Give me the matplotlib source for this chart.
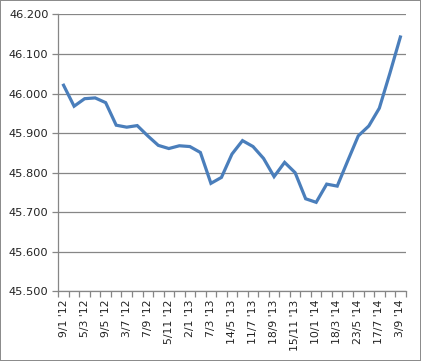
import matplotlib.pyplot as plt

# tick labels shown on every second category
labels = ["9/1 '12", "5/3 '12", "9/5 '12", "3/7 '12", "7/9 '12", "5/11 '12",
          "2/1 '13", "7/3 '13", "14/5 '13", "11/7 '13", "18/9 '13", "15/11 '13",
          "10/1 '14", "18/3 '14", "23/5 '14", "17/7 '14", "3/9 '14"]

values = [46.021, 45.968, 45.987, 45.989, 45.977, 45.920, 45.915, 45.919,
          45.893, 45.869, 45.861, 45.868, 45.866, 45.851, 45.773, 45.788,
          45.847, 45.881, 45.866, 45.836, 45.790, 45.826, 45.800, 45.734,
          45.725, 45.771, 45.766, 45.830, 45.893, 45.918, 45.963, 46.051,
          46.143]

yticks = [45.5, 45.6, 45.7, 45.8, 45.9, 46.0, 46.1, 46.2]

n = len(values)
x = list(range(n))

fig = plt.figure(figsize=(4.21, 3.61), dpi=100)
fig.patch.set_facecolor('white')
fig.patch.set_edgecolor('#8c8c8c')
fig.patch.set_linewidth(1.2)

ax = fig.add_axes([0.1385, 0.193, 0.825, 0.767])
ax.plot(x, values, color='#4a7ebb', linewidth=2.3, solid_joinstyle='miter')

ax.set_xlim(-0.5, n - 0.5)
ax.set_ylim(45.5, 46.2)
ax.set_yticks(yticks)
ax.set_yticklabels([f'{v:.3f}' for v in yticks], fontsize=8.2, color='#222222')
ax.grid(axis='y', color='#868686', linewidth=0.9)
ax.set_axisbelow(True)

# category boundaries as tick marks, labels on every second category
ax.set_xticks([i - 0.5 for i in range(n + 1)])
ax.set_xticklabels([])
ax.set_xticks(x[::2], minor=True)
ax.set_xticklabels(labels, minor=True, rotation=90, fontsize=7.8, color='#222222')
ax.tick_params(axis='x', which='major', length=4, color='#868686', width=0.9)
ax.tick_params(axis='x', which='minor', length=0, pad=6)
ax.tick_params(axis='y', length=4, color='#868686', width=0.9, pad=3)

for side in ['top', 'right']:
    ax.spines[side].set_visible(False)
for side in ['left', 'bottom']:
    ax.spines[side].set_color('#868686')
    ax.spines[side].set_linewidth(0.9)

fig.savefig('out.png', dpi=100, edgecolor=fig.get_edgecolor())
